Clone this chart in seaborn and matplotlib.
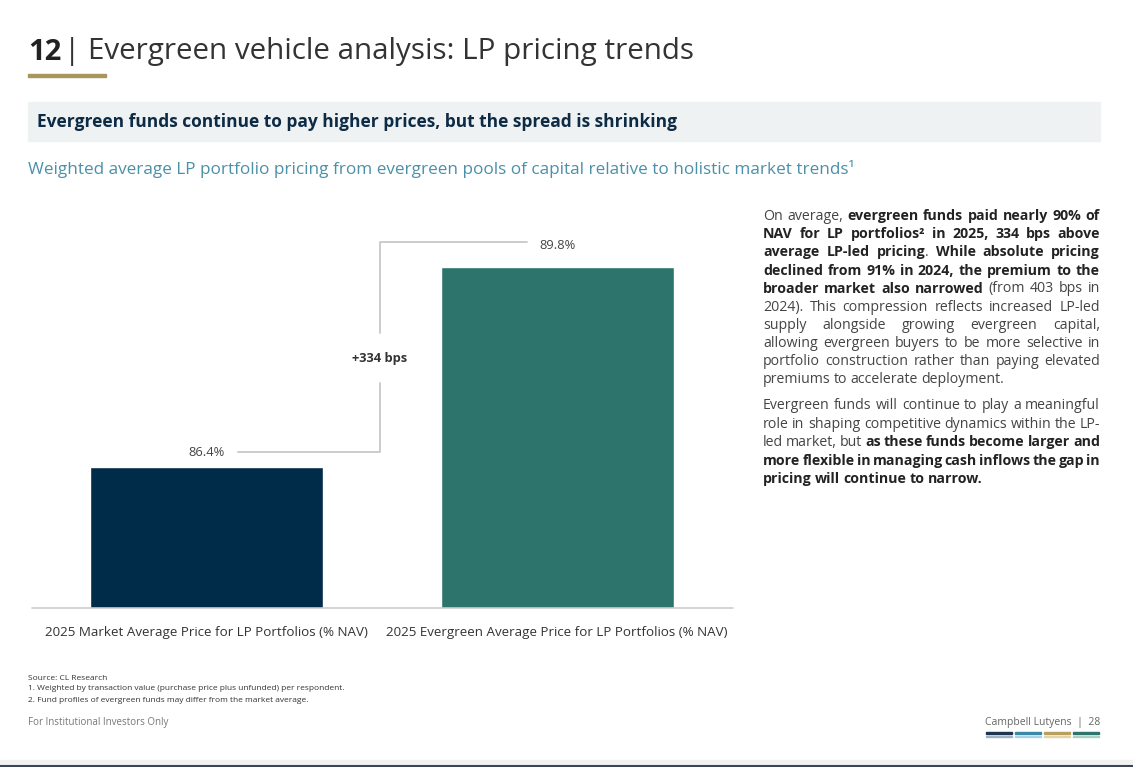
import matplotlib
matplotlib.use("Agg")
import matplotlib.pyplot as plt
import seaborn as sns
import pandas as pd
from matplotlib.patches import Rectangle
from matplotlib.lines import Line2D

CATEGORIES = [
    "2025 Market Average Price for LP Portfolios (% NAV)",
    "2025 Evergreen Average Price for LP Portfolios (% NAV)",
]
VALUES = [86.4, 89.8]
VALUE_LABELS = ["86.4%", "89.8%"]
SPREAD_LABEL = "+334 bps"
COLORS = ["#002b49", "#2d756c"]

PARAGRAPHS = [
    [
        "On average, **evergreen funds paid nearly 90% of**",
        "**NAV for LP portfolios² in 2025, 334 bps above**",
        "**average LP-led pricing**. **While absolute pricing**",
        "**declined from 91% in 2024, the premium to the**",
        "**broader market also narrowed** (from 403 bps in",
        "2024). This compression reflects increased LP-led",
        "supply alongside growing evergreen capital,",
        "allowing evergreen buyers to be more selective in",
        "portfolio construction rather than paying elevated",
        "premiums to accelerate deployment.",
    ],
    [
        "Evergreen funds will continue to play a meaningful",
        "role in shaping competitive dynamics within the LP-",
        "led market, but **as these funds become larger and**",
        "**more flexible in managing cash inflows the gap in**",
        "**pricing will continue to narrow.**",
    ],
]

W, H = 1133, 767
sns.set_theme(style="white")
plt.rcParams["font.family"] = ["Open Sans", "DejaVu Sans"]

fig = plt.figure(figsize=(W / 100, H / 100), dpi=100)
fig.patch.set_facecolor("white")


def fx(px):
    return px / W


def fy(py):
    return 1 - py / H


# header
fig.text(fx(28), fy(52), "12", fontsize=21, fontweight="bold", color="#222222", va="center")
fig.text(fx(64), fy(51), "| Evergreen vehicle analysis: LP pricing trends", fontsize=21.3,
         color="#333333", va="center")
fig.add_artist(Rectangle((fx(28), fy(77)), fx(78), 3 / H, color="#a8965e", transform=fig.transFigure))
fig.add_artist(Rectangle((fx(28), fy(141)), fx(1072), 39 / H, color="#eef2f3", transform=fig.transFigure))
fig.text(fx(37), fy(122), "Evergreen funds continue to pay higher prices, but the spread is shrinking",
         fontsize=12.5, fontweight="bold", color="#0d2b45", va="center")
fig.text(fx(28), fy(169),
         "Weighted average LP portfolio pricing from evergreen pools of capital relative to holistic market trends¹",
         fontsize=12.3, color="#4a90a8", va="center")

# chart
ax = fig.add_axes([fx(32), fy(608), fx(701), 408 / H])
df = pd.DataFrame({"cat": CATEGORIES, "val": VALUES})
sns.barplot(data=df, x="cat", y="val", hue="cat", palette=COLORS, legend=False,
            width=0.664, ax=ax, saturation=1)
ax.set_ylim(84.0, 90.94)
ax.set_xlim(-0.496, 1.501)
sns.despine(ax=ax, left=True, top=True, right=True, bottom=True)
ax.set_yticks([])
ax.set_xlabel("")
ax.set_ylabel("")
ax.axhline(84.0, color="#cccccc", lw=1.2, clip_on=False)
ax.tick_params(axis="x", length=0, pad=13, labelsize=9.6, labelcolor="#333333")
ax.patch.set_alpha(0)

grey = "#c8c8c8"
ax.text(0, 86.65, VALUE_LABELS[0], ha="center", va="center", fontsize=9.3, color="#444444")
ax.text(1, 90.16, VALUE_LABELS[1], ha="center", va="center", fontsize=9.3, color="#444444")
ax.plot([0.09, 0.495, 0.495], [86.65, 86.65, 87.83], color=grey, lw=1.3, clip_on=False)
ax.plot([0.495, 0.495, 0.915], [88.68, 90.22, 90.22], color=grey, lw=1.3, clip_on=False)
ax.text(0.495, 88.25, SPREAD_LABEL, ha="center", va="center", fontsize=9.3,
        fontweight="bold", color="#333333")

# right paragraph, justified with bold runs
fig.canvas.draw()
renderer = fig.canvas.get_renderer()
x0, x1 = 763, 1100
para_tops = [216, 406]
line_h = 18.2


def tokens(line):
    # (word, bold, glued-to-previous)
    out = []
    bold = False
    prev = ""
    for part in line.split("**"):
        glue_first = bool(out) and part and not part.startswith(" ") and not prev.endswith(" ")
        for j, w in enumerate(part.split(" ")):
            if w:
                out.append((w, bold, glue_first and j == 0))
        if part:
            prev = part
        bold = not bold
    return out


for top, lines in zip(para_tops, PARAGRAPHS):
    for i, line in enumerate(lines):
        y = top + i * line_h
        toks = tokens(line)
        texts, widths, glues = [], [], []
        for w, b, g in toks:
            t = fig.text(0, fy(y), w, fontsize=10.2, color="#222222" if b else "#444444",
                         fontweight="bold" if b else "normal", va="center")
            texts.append(t)
            widths.append(t.get_window_extent(renderer).width)
            glues.append(g)
        n_gaps = sum(1 for g in glues[1:] if not g)
        space = 3.2
        if i < len(lines) - 1 and n_gaps > 0:
            space = (x1 - x0 - sum(widths)) / n_gaps
        x = x0
        for k, (t, wd) in enumerate(zip(texts, widths)):
            if k > 0 and not glues[k]:
                x += space
            t.set_x(fx(x))
            x += wd

# footer
for y, s in [(678, "Source: CL Research"),
             (689, "1. Weighted by transaction value (purchase price plus unfunded) per respondent."),
             (701, "2. Fund profiles of evergreen funds may differ from the market average.")]:
    fig.text(fx(28), fy(y), s, fontsize=6, color="#333333", va="center")
fig.text(fx(28), fy(722), "For Institutional Investors Only", fontsize=7, color="#777777", va="center")
fig.text(fx(1100), fy(722), "Campbell Lutyens  |  28", fontsize=7.5, color="#666666",
         va="center", ha="right")
for xs, c, c2 in [(986, "#1d3550", "#9fb2c4"), (1015, "#3a87a8", "#a9d3e6"),
                  (1044, "#b89f5e", "#e3d4a8"), (1073, "#2d756c", "#a9cfc6")]:
    fig.add_artist(Rectangle((fx(xs), fy(734)), fx(26), 2 / H, color=c, transform=fig.transFigure))
    fig.add_artist(Rectangle((fx(xs), fy(737)), fx(26), 1.5 / H, color=c2, transform=fig.transFigure))
fig.add_artist(Rectangle((0, fy(764)), 1, 4 / H, color="#f2f2f2", transform=fig.transFigure))
fig.add_artist(Line2D([0, 1], [fy(765.5), fy(765.5)], color="#3a4656", lw=1.5, transform=fig.transFigure))

fig.savefig("out.png", dpi=100)
